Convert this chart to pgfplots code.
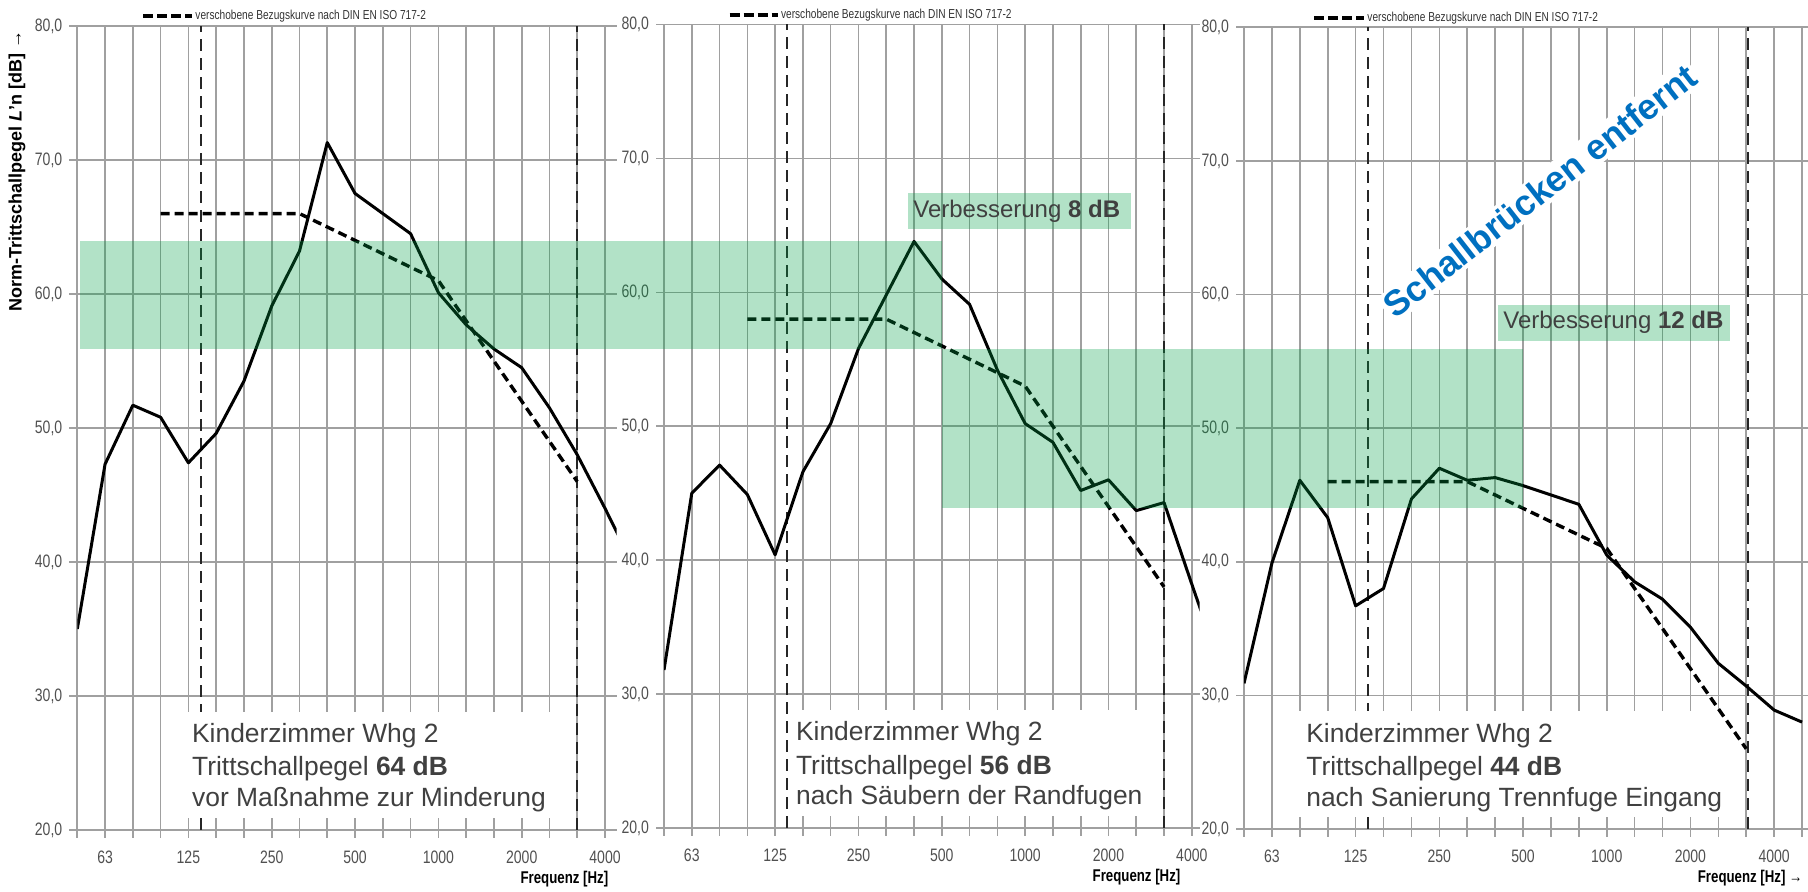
\documentclass[border=0pt]{standalone}
\usepackage{fontspec}
\setmainfont{Liberation Sans}
\newfontfamily\narrowfont[FakeStretch=0.78]{Liberation Sans}
\usepackage{pgfplots}
\pgfplotsset{compat=1.18}
\definecolor{gridgray}{RGB}{160,160,160}
\definecolor{txtgray}{RGB}{64,64,64}
\definecolor{tickgray}{RGB}{80,80,80}
\definecolor{bandgreen}{RGB}{0,160,70}
\definecolor{blueT}{RGB}{0,112,192}
\newcommand\boxfont{\fontsize{13.2}{16}\selectfont}
\pgfplotsset{
 panel/.style={
  scale only axis,
  anchor=south west,
  xmin=0, ymin=20, ymax=80,
  axis x line*=bottom, axis y line*=left,
  axis line style={gridgray, line width=0.8pt},
  xtick={0,...,20},
  xticklabels={,63,,,125,,,250,,,500,,,1000,,,2000,,,4000,},
  ytick={20,30,...,80},
  grid=major,
  major grid style={gridgray, line width=0.8pt},
  tick style={gridgray, line width=0.8pt},
  tick align=outside,
  major tick length=4pt,
  ticklabel style={font=\narrowfont\fontsize{9}{10}\selectfont, text=tickgray},
  yticklabel style={/pgf/number format/fixed, /pgf/number format/fixed zerofill, /pgf/number format/precision=1, /pgf/number format/use comma, /pgf/number format/assume math mode=true},
  xticklabel style={yshift=-3pt},
  clip mode=individual,
 },
}
\tikzset{
 meas/.style={black, line width=1.5pt, line join=round},
 ref/.style={black, line width=1.7pt, dash pattern=on 4.5pt off 2.5pt},
 vdash/.style={black!85, line width=1.1pt, dash pattern=on 6pt off 3.5pt},
 legtext/.style={font=\narrowfont\fontsize{6.5}{7}\selectfont, text=black!80, anchor=west, inner sep=0pt},
 freq/.style={font=\narrowfont\bfseries\fontsize{8.5}{9}\selectfont, anchor=east, inner sep=0pt},
 btext/.style={font=\boxfont, text=txtgray, anchor=base west, inner sep=0pt},
 vtext/.style={font=\fontsize{12}{14}\selectfont, text=txtgray, anchor=west, inner sep=0pt},
}
\begin{document}
\begin{tikzpicture}
\useasboundingbox (0,0) rectangle (904pt,446pt);

% ---------- Panel 1 ----------
\begin{axis}[panel, at={(38.65pt,31pt)}, width=269.7pt, height=402pt, xmax=19.42]
\draw[vdash] (axis cs:4.45,20) -- (axis cs:4.45,80);
\fill[white] (axis cs:3.84,20.9) rectangle (axis cs:17.95,28.8);
\draw[vdash] (axis cs:18,20) -- (axis cs:18,80);
\node[btext] at (axis cs:4.12,26.5) {Kinderzimmer Whg 2};
\node[btext] at (axis cs:4.12,24.03) {Trittschallpegel \textbf{64 dB}};
\node[btext] at (axis cs:4.12,21.72) {vor Maßnahme zur Minderung};
\addplot[meas] coordinates {(0,35.0) (1,47.3) (2,51.7) (3,50.8) (4,47.4) (5,49.6) (6,53.5) (7,59.1) (8,63.2) (9,71.3) (10,67.5) (11,66.0) (12,64.5) (13,60.1) (14,57.7) (15,55.9) (16,54.5) (17,51.5) (18,48.0) (19,44.0) (20,39.8)};
\addplot[ref] coordinates {(3,66) (4,66) (5,66) (6,66) (7,66) (8,66) (9,65) (10,64) (11,63) (12,62) (13,61) (14,58) (15,55) (16,52) (17,49) (18,46)};
\draw[black, line width=2pt, dash pattern=on 5pt off 2pt] (axis cs:2.37,80.75) -- (axis cs:4.13,80.75);
\node[legtext] at (axis cs:4.24,80.75) {verschobene Bezugskurve nach DIN EN ISO 717-2};
\node[freq] at (axis cs:19.13,16.3) {Frequenz [Hz]};
\node[rotate=90, font=\bfseries\fontsize{9}{10}\selectfont, inner sep=0pt] at (axis cs:-2.17,69.2) {Norm-Trittschallpegel {\itshape L}’n [dB] →};
\coordinate (b1sw) at (axis cs:0.08,55.9);
\end{axis}

% ---------- Panel 2 ----------
\begin{axis}[panel, at={(332pt,32pt)}, width=267.8pt, height=401.75pt, xmax=19.28]
\fill[white] (axis cs:4.5,20.9) rectangle (axis cs:17.9,28.8);
\draw[vdash] (axis cs:4.42,20) -- (axis cs:4.42,80);
\draw[vdash] (axis cs:18,20) -- (axis cs:18,80);
\node[btext] at (axis cs:4.74,26.5) {Kinderzimmer Whg 2};
\node[btext] at (axis cs:4.74,24.03) {Trittschallpegel \textbf{56 dB}};
\node[btext] at (axis cs:4.74,21.72) {nach Säubern der Randfugen};
\addplot[meas] coordinates {(0,31.8) (1,45.0) (2,47.1) (3,44.9) (4,40.4) (5,46.6) (6,50.2) (7,55.8) (8,59.8) (9,63.8) (10,61.0) (11,59.1) (12,54.2) (13,50.2) (14,48.8) (15,45.2) (16,46.0) (17,43.7) (18,44.3) (19,38.2) (20,32.2)};
\addplot[ref] coordinates {(3,58) (4,58) (5,58) (6,58) (7,58) (8,58) (9,57) (10,56) (11,55) (12,54) (13,53) (14,50) (15,47) (16,44) (17,41) (18,38)};
\fill[bandgreen, opacity=0.3] (axis cs:8.79,64.7) rectangle (axis cs:16.8,67.4);
\node[vtext] at (axis cs:8.96,66.05) {Verbesserung \textbf{8 dB}};
\draw[black, line width=2pt, dash pattern=on 5pt off 2pt] (axis cs:2.36,80.7) -- (axis cs:4.1,80.7);
\node[legtext] at (axis cs:4.2,80.7) {verschobene Bezugskurve nach DIN EN ISO 717-2};
\node[freq] at (axis cs:18.6,16.3) {Frequenz [Hz]};
\coordinate (b1ne) at (axis cs:10,63.8);
\coordinate (b2sw) at (axis cs:10,43.9);
\end{axis}

% ---------- Panel 3 ----------
\begin{axis}[panel, at={(622pt,31.5pt)}, width=281.8pt, height=400.85pt, xmax=20.2]
\draw[vdash] (axis cs:4.43,20) -- (axis cs:4.43,80);
\fill[white] (axis cs:1.97,20.9) rectangle (axis cs:17.95,28.8);
\draw[vdash] (axis cs:18.05,20) -- (axis cs:18.05,80);
\node[btext] at (axis cs:2.22,26.5) {Kinderzimmer Whg 2};
\node[btext] at (axis cs:2.22,24.03) {Trittschallpegel \textbf{44 dB}};
\node[btext] at (axis cs:2.22,21.72) {nach Sanierung Trennfuge Eingang};
\addplot[meas] coordinates {(0,30.9) (1,39.9) (2,46.1) (3,43.3) (4,36.7) (5,38.0) (6,44.7) (7,47.0) (8,46.1) (9,46.3) (10,45.7) (11,45.0) (12,44.3) (13,40.5) (14,38.5) (15,37.2) (16,35.1) (17,32.4) (18,30.7) (19,28.9) (20,28.0)};
\addplot[ref] coordinates {(3,46) (4,46) (5,46) (6,46) (7,46) (8,46) (9,45) (10,44) (11,43) (12,42) (13,41) (14,38) (15,35) (16,32) (17,29) (18,26)};
\fill[bandgreen, opacity=0.3] (axis cs:9.11,56.5) rectangle (axis cs:17.42,59.25);
\node[vtext] at (axis cs:9.28,57.9) {Verbesserung \textbf{12 dB}};
\node[rotate=38, fill=white, inner sep=1.5pt, text=blueT, font=\bfseries\fontsize{17.8}{20}\selectfont] at (axis cs:10.61,67.75) {Schallbrücken entfernt};
\draw[black, line width=2pt, dash pattern=on 5pt off 2pt] (axis cs:2.51,80.7) -- (axis cs:4.3,80.7);
\node[legtext] at (axis cs:4.41,80.7) {verschobene Bezugskurve nach DIN EN ISO 717-2};
\node[freq] at (axis cs:20.03,16.3) {Frequenz [Hz] →};
\coordinate (b2ne) at (axis cs:10,55.9);
\end{axis}

% ---------- green bands ----------
\fill[bandgreen, opacity=0.3] (b1sw) rectangle (b1ne);
\fill[bandgreen, opacity=0.3] (b2sw) rectangle (b2ne);
\end{tikzpicture}
\end{document}
